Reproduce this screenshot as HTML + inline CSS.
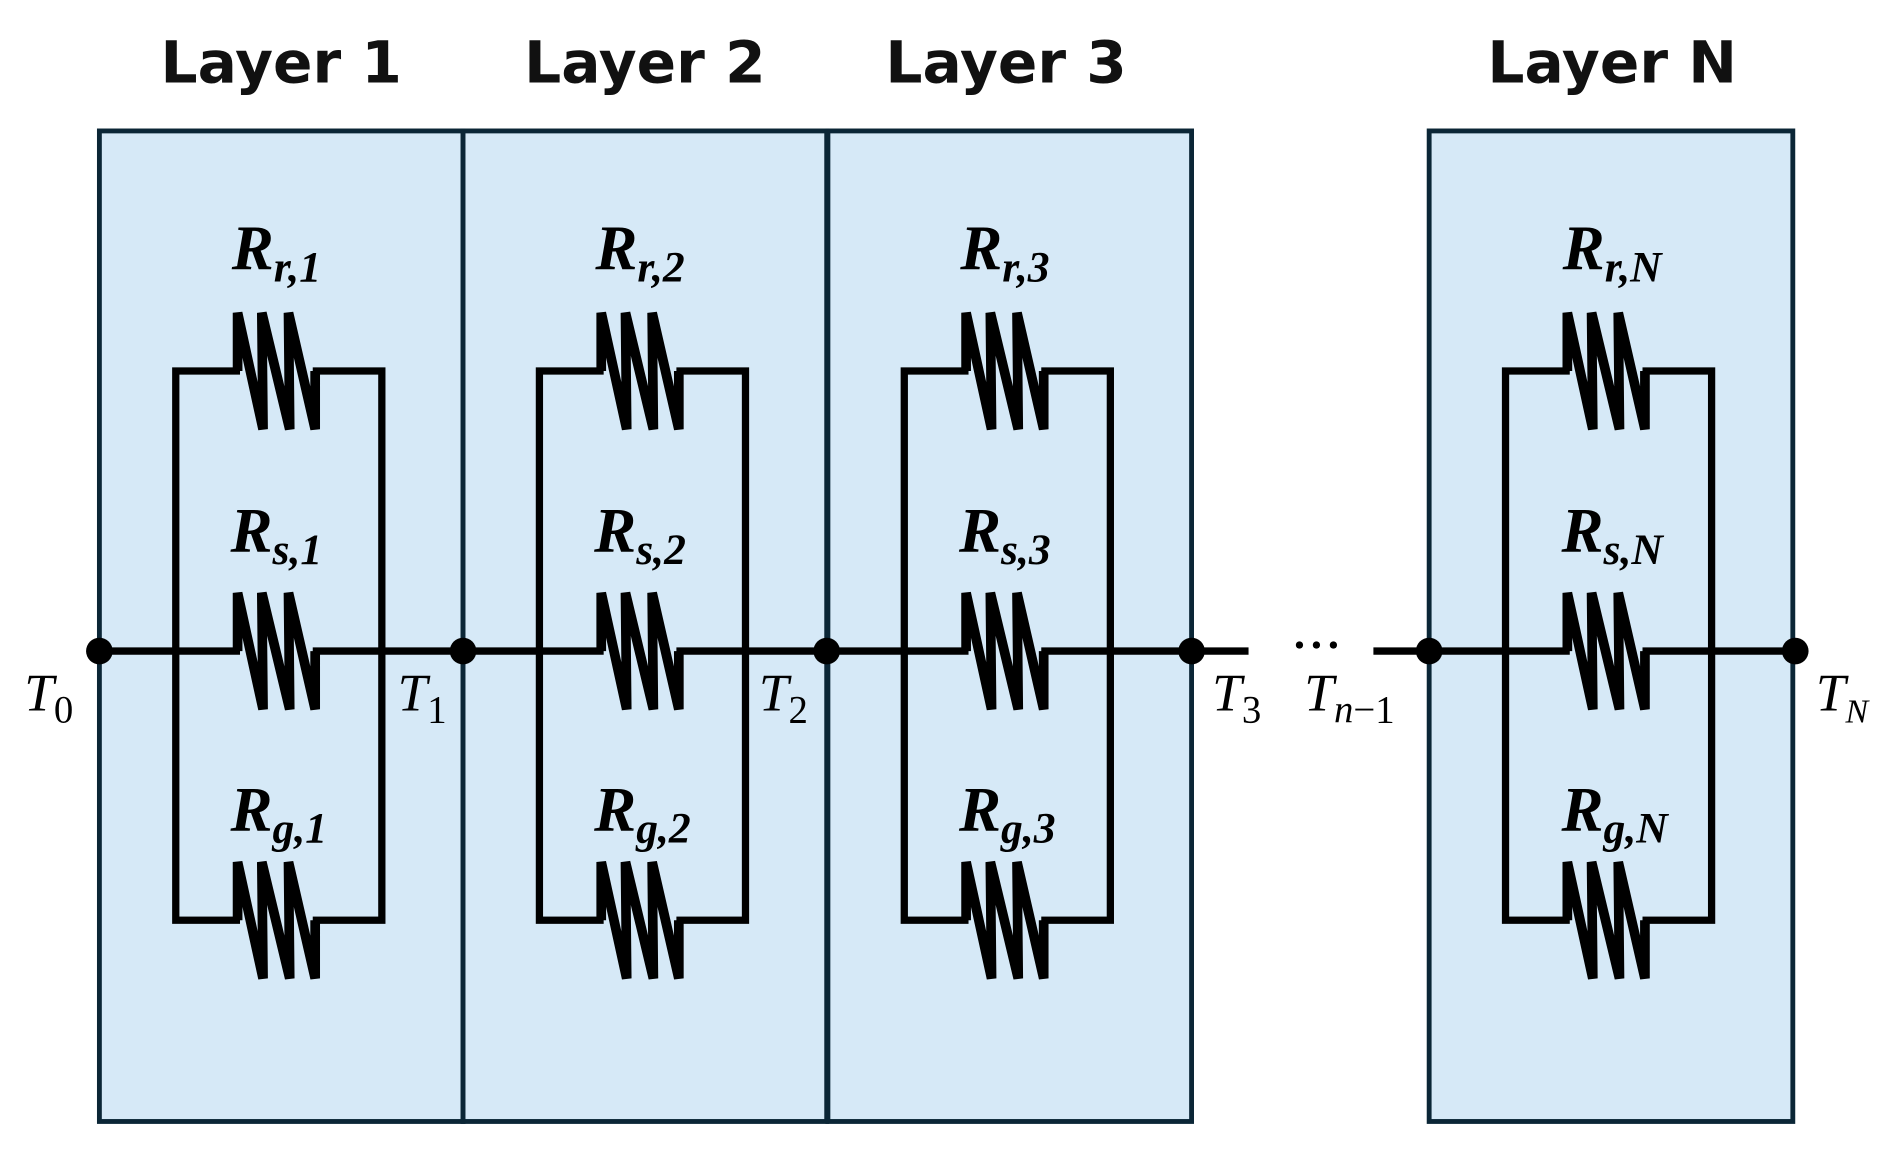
<!DOCTYPE html>
<html><head><meta charset="utf-8"><style>html,body{margin:0;padding:0;background:#fff}svg{display:block}</style></head>
<body>
<svg width="1891" height="1153" viewBox="0 0 1560 951" preserveAspectRatio="none" xmlns="http://www.w3.org/2000/svg">
<defs>
<g id="res"><polyline points="-32,0 -32,-48 -11,48 -12,-48 11,48 10,-48 32,48 32,0" fill="none" stroke="#000" stroke-width="8" stroke-linejoin="miter" stroke-miterlimit="3"/></g>
<g id="layer">
<rect x="82" y="108" width="300" height="817" fill="#d6e9f7" stroke="#0b2636" stroke-width="4"/>
<rect x="145" y="306" width="170" height="453" fill="none" stroke="#000" stroke-width="6"/>
<line x1="82" y1="537" x2="382" y2="537" stroke="#000" stroke-width="6"/>
<rect x="198" y="300" width="60" height="12" fill="#d6e9f7"/>
<rect x="198" y="753" width="60" height="12" fill="#d6e9f7"/>
<rect x="198" y="531" width="60" height="12" fill="#d6e9f7"/>
<use href="#res" x="228" y="306"/>
<use href="#res" x="228" y="537"/>
<use href="#res" x="228" y="759"/>
</g>
</defs>
<g font-family="'DejaVu Sans','Liberation Sans',sans-serif" font-weight="bold" font-size="48" text-anchor="middle" fill="#111">
<text x="232" y="68">Layer 1</text><text x="532" y="68">Layer 2</text><text x="830" y="68">Layer 3</text><text x="1330" y="68">Layer N</text>
</g>
<use href="#layer"/>
<use href="#layer" x="300"/>
<use href="#layer" x="601"/>
<use href="#layer" x="1097"/>
<line x1="983" y1="537" x2="1030" y2="537" stroke="#000" stroke-width="6"/>
<line x1="1133" y1="537" x2="1179" y2="537" stroke="#000" stroke-width="6"/>
<g fill="#000"><circle cx="1072" cy="532" r="3"/><circle cx="1086" cy="532" r="3"/><circle cx="1100" cy="532" r="3"/>
<circle cx="82" cy="537" r="11"/><circle cx="382" cy="537" r="11"/><circle cx="682" cy="537" r="11"/><circle cx="983" cy="537" r="11"/><circle cx="1179" cy="537" r="11"/><circle cx="1481" cy="537" r="11"/></g>
<g font-family="'Liberation Serif',serif" font-weight="bold" font-style="italic" font-size="52" fill="#000" text-anchor="middle">
<text x="228" y="222">R<tspan font-size="36" dy="10">r,1</tspan></text>
<text x="228" y="455">R<tspan font-size="36" dy="10">s,1</tspan></text>
<text x="230" y="685">R<tspan font-size="36" dy="10">g,1</tspan></text>
<text x="528" y="222">R<tspan font-size="36" dy="10">r,2</tspan></text>
<text x="528" y="455">R<tspan font-size="36" dy="10">s,2</tspan></text>
<text x="530" y="685">R<tspan font-size="36" dy="10">g,2</tspan></text>
<text x="829" y="222">R<tspan font-size="36" dy="10">r,3</tspan></text>
<text x="829" y="455">R<tspan font-size="36" dy="10">s,3</tspan></text>
<text x="831" y="685">R<tspan font-size="36" dy="10">g,3</tspan></text>
<text x="1330" y="222">R<tspan font-size="36" dy="10">r,N</tspan></text>
<text x="1330" y="455">R<tspan font-size="36" dy="10">s,N</tspan></text>
<text x="1332" y="685">R<tspan font-size="36" dy="10">g,N</tspan></text>
</g>
<g font-family="'Liberation Serif',serif" font-style="italic" font-size="44" fill="#000">
<text x="20" y="586">T<tspan font-size="32" dy="10" font-style="normal">0</tspan></text>
<text x="328" y="586">T<tspan font-size="32" dy="10" font-style="normal">1</tspan></text>
<text x="626" y="586">T<tspan font-size="32" dy="10" font-style="normal">2</tspan></text>
<text x="1000" y="586">T<tspan font-size="32" dy="10" font-style="normal">3</tspan></text>
<text x="1076" y="586">T<tspan font-size="32" dy="10">n</tspan><tspan font-size="32" font-style="normal">−1</tspan></text>
<text x="1498" y="586">T<tspan font-size="28" dy="10">N</tspan></text>
</g>
</svg>
</body></html>
